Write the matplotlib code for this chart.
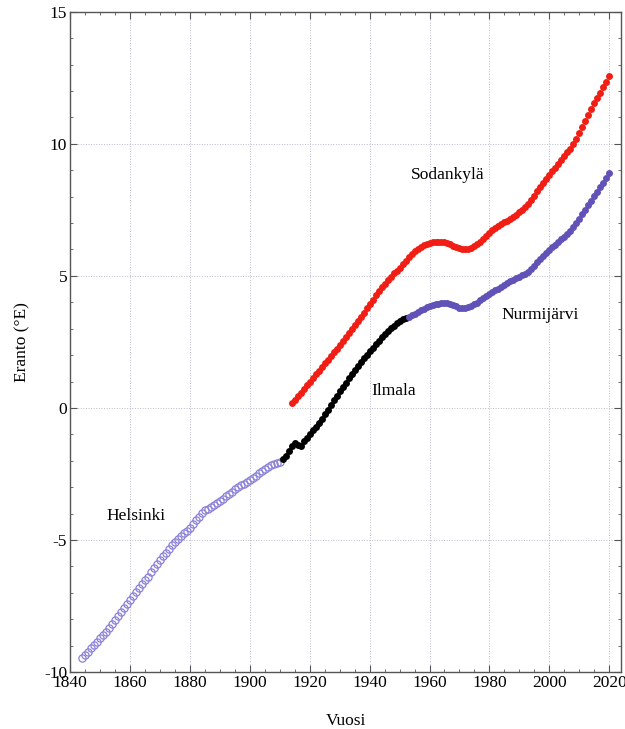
import matplotlib.pyplot as plt
import numpy as np
from matplotlib.ticker import MultipleLocator

plt.rcParams['font.family'] = ['Liberation Serif', 'DejaVu Serif']
plt.rcParams['axes.unicode_minus'] = False

# Declination by observatory, yearly values
helsinki_years = np.arange(1844, 1911)
helsinki = [
    -9.48, -9.35, -9.22, -9.10, -8.98, -8.85, -8.72, -8.60, -8.47, -8.33,
    -8.18, -8.03, -7.88, -7.73, -7.58, -7.43, -7.28, -7.13, -6.98, -6.83,
    -6.68, -6.53, -6.38, -6.22, -6.05, -5.90, -5.76, -5.62, -5.48, -5.34,
    -5.20, -5.06, -4.95, -4.85, -4.75, -4.65, -4.55, -4.40, -4.25, -4.11,
    -3.98, -3.88, -3.81, -3.74, -3.67, -3.60, -3.53, -3.44, -3.35, -3.26,
    -3.17, -3.08, -3.00, -2.93, -2.86, -2.79, -2.72, -2.65, -2.56, -2.47,
    -2.38, -2.30, -2.22, -2.16, -2.12, -2.09, -2.06,
]

ilmala_years = np.arange(1911, 1953)
ilmala = [
    -1.95, -1.80, -1.62, -1.45, -1.32, -1.40, -1.44, -1.25, -1.12, -0.98,
    -0.85, -0.72, -0.56, -0.40, -0.24, -0.06, 0.12, 0.30, 0.47, 0.64,
    0.80, 0.96, 1.12, 1.28, 1.44, 1.60, 1.75, 1.89, 2.02, 2.15,
    2.28, 2.41, 2.54, 2.67, 2.79, 2.91, 3.02, 3.12, 3.21, 3.29,
    3.35, 3.40,
]

sodankyla_years = np.arange(1914, 2021)
sodankyla = [
    0.18, 0.31, 0.45, 0.58, 0.72, 0.86, 0.99, 1.13, 1.27, 1.41,
    1.55, 1.69, 1.83, 1.97, 2.11, 2.25, 2.39, 2.53, 2.67, 2.82,
    2.97, 3.13, 3.29, 3.45, 3.61, 3.77, 3.93, 4.10, 4.26, 4.42,
    4.57, 4.71, 4.84, 4.97, 5.09, 5.20, 5.31, 5.43, 5.56, 5.70,
    5.83, 5.94, 6.02, 6.09, 6.15, 6.20, 6.24, 6.27, 6.29, 6.30,
    6.30, 6.28, 6.24, 6.19, 6.13, 6.08, 6.04, 6.02, 6.01, 6.03,
    6.07, 6.13, 6.20, 6.30, 6.41, 6.52, 6.62, 6.72, 6.80, 6.88,
    6.95, 7.02, 7.09, 7.16, 7.24, 7.32, 7.40, 7.49, 7.60, 7.73,
    7.88, 8.04, 8.20, 8.37, 8.53, 8.68, 8.82, 8.96, 9.10, 9.24,
    9.38, 9.52, 9.67, 9.82, 9.98, 10.18, 10.40, 10.62, 10.85, 11.08,
    11.31, 11.53, 11.74, 11.94, 12.13, 12.34, 12.58,
]

nurmijarvi_years = np.arange(1953, 2021)
nurmijarvi = [
    3.45, 3.50, 3.56, 3.63, 3.70, 3.76, 3.82, 3.86, 3.90, 3.93,
    3.95, 3.97, 3.97, 3.96, 3.93, 3.89, 3.84, 3.80, 3.79, 3.79,
    3.82, 3.86, 3.92, 3.99, 4.07, 4.15, 4.23, 4.31, 4.38, 4.45,
    4.52, 4.59, 4.66, 4.73, 4.80, 4.86, 4.92, 4.97, 5.02, 5.08,
    5.16, 5.27, 5.39, 5.52, 5.64, 5.76, 5.88, 5.98, 6.08, 6.18,
    6.28, 6.38, 6.48, 6.59, 6.71, 6.86, 7.01, 7.17, 7.34, 7.51,
    7.68, 7.85, 8.02, 8.19, 8.36, 8.53, 8.70, 8.88,
]

fig = plt.figure(figsize=(6.25, 7.29), dpi=100)
ax = fig.add_axes([0.112, 0.078, 0.882, 0.906])

ax.plot(helsinki_years, helsinki, 'o', ms=5.2, mfc='none', mec='#8a80d8', mew=0.9)
ax.plot(ilmala_years, ilmala, 'o', ms=5, color='black', mec='none')
ax.plot(sodankyla_years, sodankyla, 'o', ms=5, color='#f01e14', mec='none')
ax.plot(nurmijarvi_years, nurmijarvi, 'o', ms=5, color='#6152b8', mec='none')

ax.text(1862, -4.1, 'Helsinki', fontsize=12.5, ha='center', va='center')
ax.text(1948, 0.65, 'Ilmala', fontsize=12.5, ha='center', va='center')
ax.text(1966, 8.8, 'Sodankylä', fontsize=12.5, ha='center', va='center')
ax.text(1997, 3.5, 'Nurmijärvi', fontsize=12.5, ha='center', va='center')

ax.set_xlim(1840, 2024)
ax.set_ylim(-10, 15)
ax.xaxis.set_major_locator(MultipleLocator(20))
ax.xaxis.set_minor_locator(MultipleLocator(5))
ax.yaxis.set_major_locator(MultipleLocator(5))
ax.yaxis.set_minor_locator(MultipleLocator(1))
ax.tick_params(which='both', direction='in', top=True, right=True,
               labelsize=12.5, color='#555555', pad=2)
ax.tick_params(which='major', length=5)
ax.tick_params(which='minor', length=2.5)
for s in ax.spines.values():
    s.set_color('#555555')
    s.set_linewidth(1.0)

ax.grid(which='major', linestyle=':', color='#bbbbcc', linewidth=0.7)
ax.set_axisbelow(True)

ax.set_xlabel('Vuosi', fontsize=12.5, labelpad=16)
ax.set_ylabel('Eranto (°E)', fontsize=12.5, labelpad=10)

fig.savefig('out.png', dpi=100)
